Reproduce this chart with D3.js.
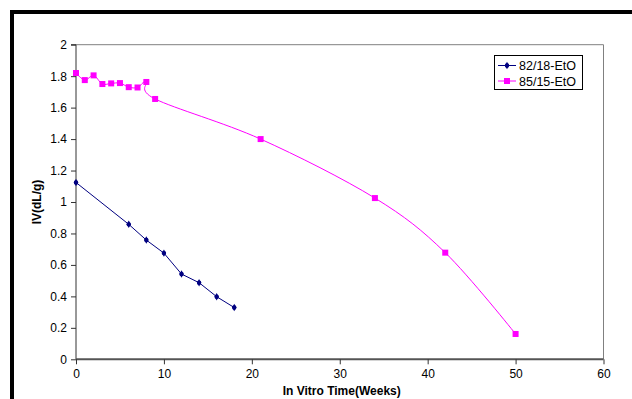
<!DOCTYPE html>
<html><head><meta charset="utf-8">
<script src="https://cdn.jsdelivr.net/npm/d3@7"></script>
<style>
html,body{margin:0;padding:0;background:#fff;}
svg{display:block;font-family:"Liberation Sans",Arial,sans-serif;}
</style></head>
<body>
<svg id="c" width="632" height="399"></svg>
<script>
const seriesNames = ["82/18-EtO", "85/15-EtO"];
const weeksA = [0, 6, 8, 10, 12, 14, 16, 18];
const ivA = [1.124, 0.858, 0.758, 0.675, 0.542, 0.487, 0.398, 0.329];
const weeksB = [0, 1, 2, 3, 4, 5, 6, 7, 8, 9, 21, 34, 42, 50];
const ivB = [1.82, 1.775, 1.805, 1.75, 1.754, 1.756, 1.73, 1.728, 1.763, 1.655, 1.40, 1.025, 0.678, 0.161];
const xTicks = [0, 10, 20, 30, 40, 50, 60];
const yTicks = [0, 0.2, 0.4, 0.6, 0.8, 1, 1.2, 1.4, 1.6, 1.8, 2];

const svg = d3.select("#c");
const L = 76, R = 603.5, T = 44.7, B = 359.3;
const x = d3.scaleLinear().domain([0, 60]).range([L, R]);
const y = d3.scaleLinear().domain([0, 2]).range([B, T]);

// outer frame (top and left thick black)
svg.append("rect").attr("x", 10).attr("y", 10).attr("width", 632).attr("height", 4).attr("fill", "#000");
svg.append("rect").attr("x", 10).attr("y", 10).attr("width", 4).attr("height", 399).attr("fill", "#000");

// plot area border top/right
svg.append("line").attr("x1", L).attr("x2", R).attr("y1", T).attr("y2", T).attr("stroke", "#808080").attr("stroke-width", 1);
svg.append("line").attr("x1", R).attr("x2", R).attr("y1", T).attr("y2", B).attr("stroke", "#808080").attr("stroke-width", 1);

// axes
const xAxis = d3.axisBottom(x).tickValues(xTicks).tickSize(5).tickPadding(5).tickFormat(d3.format("d"));
const yAxis = d3.axisLeft(y).tickValues(yTicks).tickSize(5).tickPadding(4).tickFormat(d => d === 0 ? "0" : d3.format("")(+d.toFixed(1)));

const gy = svg.append("g").attr("transform", `translate(${L},0)`).call(yAxis);
gy.select(".domain").attr("d", `M-5,${T}H0V${B}`).attr("stroke", "#333").attr("stroke-width", 1);
gy.selectAll(".tick line").attr("stroke", "#333");
gy.selectAll("text").attr("font-size", 12).attr("fill", "#000").attr("font-family", "Liberation Sans, Arial, sans-serif");

const gx = svg.append("g").attr("transform", `translate(0,${B})`).call(xAxis);
gx.select(".domain").attr("d", `M${L},0H${R}`).attr("stroke", "#555").attr("stroke-width", 2);
gx.selectAll(".tick line").attr("stroke", "#333");
gx.selectAll("text").attr("font-size", 12).attr("fill", "#000").attr("font-family", "Liberation Sans, Arial, sans-serif");

// axis titles
svg.append("text").attr("x", (L + R) / 2 + 2).attr("y", 395).attr("text-anchor", "middle")
  .attr("font-size", 12).attr("font-weight", "bold").text("In Vitro Time(Weeks)");
svg.append("text").attr("transform", "translate(41,202) rotate(-90)").attr("text-anchor", "middle")
  .attr("font-size", 12).attr("font-weight", "bold").text("IV(dL/g)");

// series
const dataA = weeksA.map((w, i) => ({ w, v: ivA[i] }));
const dataB = weeksB.map((w, i) => ({ w, v: ivB[i] }));

const lineA = d3.line().x(d => x(d.w)).y(d => y(d.v));
const lineB = d3.line().x(d => x(d.w)).y(d => y(d.v)).curve(d3.curveCatmullRom.alpha(0));

svg.append("path").datum(dataA).attr("d", lineA).attr("fill", "none").attr("stroke", "#000080").attr("stroke-width", 1);
svg.append("path").datum(dataB).attr("d", lineB).attr("fill", "none").attr("stroke", "#FF00FF").attr("stroke-width", 1);

const dot = d3.symbol().type(d3.symbolDiamond).size(16);
svg.selectAll(".ma").data(dataA).join("g").attr("class", "ma")
  .attr("transform", d => `translate(${x(d.w)},${y(d.v)})`)
  .call(g => { g.append("path").attr("d", dot).attr("fill", "#000080"); g.append("circle").attr("r", 2.2).attr("fill", "#000080"); });
svg.selectAll(".mb").data(dataB).join("rect").attr("class", "mb")
  .attr("x", d => x(d.w) - 3).attr("y", d => y(d.v) - 3).attr("width", 6).attr("height", 6).attr("fill", "#FF00FF");

// legend
const lg = svg.append("g");
lg.append("rect").attr("x", 494.5).attr("y", 55.5).attr("width", 88).attr("height", 34).attr("fill", "#fff").attr("stroke", "#000").attr("stroke-width", 1);
const colors = ["#000080", "#FF00FF"];
seriesNames.forEach((n, i) => {
  const yy = 65.5 + i * 15.5;
  lg.append("line").attr("x1", 498).attr("x2", 516).attr("y1", yy).attr("y2", yy).attr("stroke", colors[i]).attr("stroke-width", 1);
  if (i === 0) {
    lg.append("path").attr("transform", `translate(507,${yy})`).attr("d", dot).attr("fill", colors[i]);
    lg.append("circle").attr("cx", 507).attr("cy", yy).attr("r", 2.2).attr("fill", colors[i]);
  } else {
    lg.append("rect").attr("x", 504).attr("y", yy - 3).attr("width", 6).attr("height", 6).attr("fill", colors[i]);
  }
  lg.append("text").attr("x", 519).attr("y", yy + 4.5).attr("font-size", 12.5).text(n);
});
</script>
</body></html>
